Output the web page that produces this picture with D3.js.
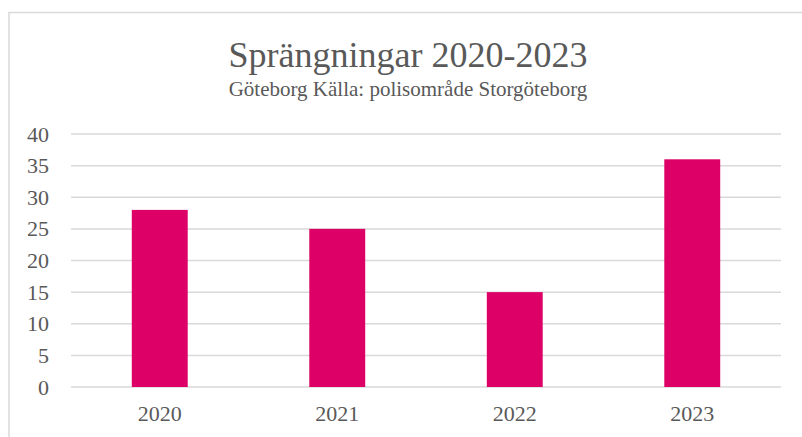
<!DOCTYPE html>
<meta charset="utf-8">
<style>
  body { margin: 0; background: #fff; }
  text { font-family: "Liberation Serif", "Times New Roman", serif; fill: #595959; }
</style>
<body>
<script src="https://d3js.org/d3.v7.min.js"></script>
<script>

var years = ["2020", "2021", "2022", "2023"];
var counts = [28, 25, 15, 36];
var yTicks = [0, 5, 10, 15, 20, 25, 30, 35, 40];

var width = 802, height = 437;

var svg = d3.select("body").append("svg")
    .attr("width", width)
    .attr("height", height);

// chart frame (runs off the right and bottom edges)
svg.append("rect")
    .attr("x", 9)
    .attr("y", 12.5)
    .attr("width", 820)
    .attr("height", 460)
    .attr("fill", "none")
    .attr("stroke", "#d9d9d9")
    .attr("stroke-width", 1.5);

var x = d3.scaleBand()
    .domain(years)
    .range([71, 781])
    .padding(0);

var y = d3.scaleLinear()
    .domain([0, 40])
    .range([387, 134]);

// gridlines
svg.selectAll("line.grid")
    .data(yTicks)
  .enter().append("line")
    .attr("class", "grid")
    .attr("x1", 71)
    .attr("x2", 781)
    .attr("y1", function(d) { return y(d); })
    .attr("y2", function(d) { return y(d); })
    .attr("stroke", "#d9d9d9")
    .attr("stroke-width", 1.5);

// y tick labels
svg.selectAll("text.ytick")
    .data(yTicks)
  .enter().append("text")
    .attr("class", "ytick")
    .attr("x", 49)
    .attr("y", function(d) { return y(d) + 7.5; })
    .attr("text-anchor", "end")
    .style("font-size", "22px")
    .text(function(d) { return d; });

// bars
var barW = x.bandwidth() * 0.315;
svg.selectAll("rect.bar")
    .data(counts)
  .enter().append("rect")
    .attr("class", "bar")
    .attr("x", function(d, i) { return x(years[i]) + x.bandwidth() / 2 - barW / 2; })
    .attr("y", function(d) { return y(d); })
    .attr("width", barW)
    .attr("height", function(d) { return y(0) - y(d); })
    .attr("fill", "#dc0067");

// x labels
svg.selectAll("text.xtick")
    .data(years)
  .enter().append("text")
    .attr("class", "xtick")
    .attr("x", function(d) { return x(d) + x.bandwidth() / 2; })
    .attr("y", 421)
    .attr("text-anchor", "middle")
    .style("font-size", "22px")
    .text(function(d) { return d; });

// titles
svg.append("text")
    .attr("x", 408)
    .attr("y", 67)
    .attr("text-anchor", "middle")
    .style("font-size", "36px")
    .text("Sprängningar 2020-2023");

svg.append("text")
    .attr("x", 408)
    .attr("y", 96)
    .attr("text-anchor", "middle")
    .style("font-size", "21px")
    .text("Göteborg Källa: polisområde Storgöteborg");

</script>
